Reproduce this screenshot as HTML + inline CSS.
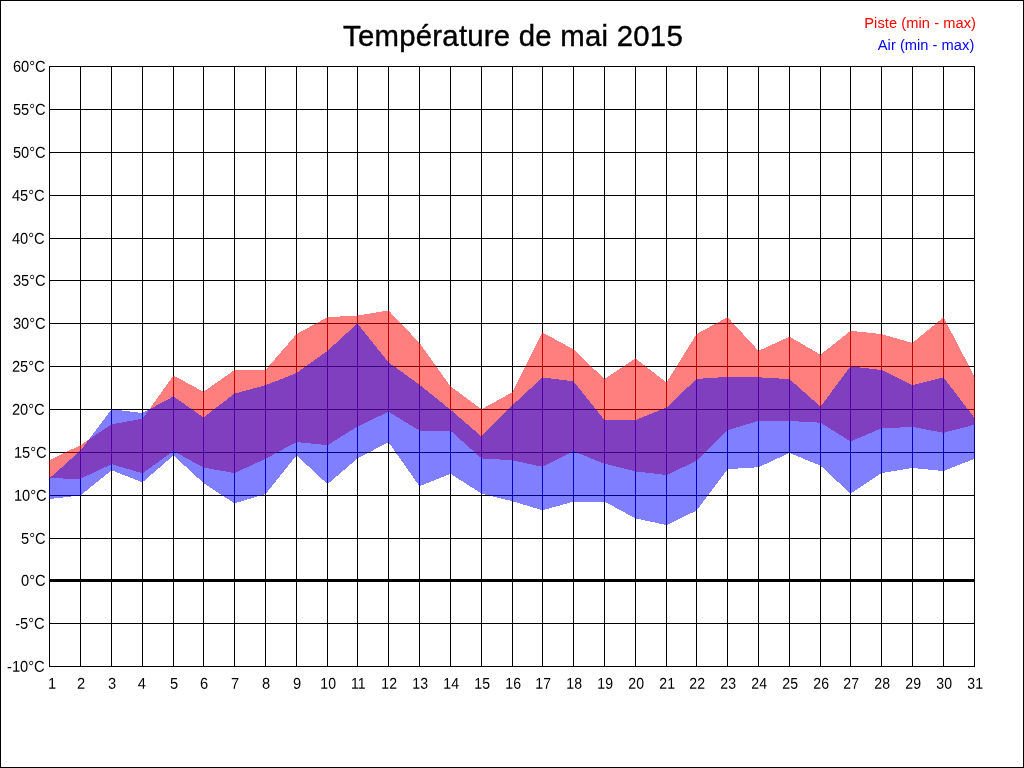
<!DOCTYPE html>
<html lang="fr">
<head>
<meta charset="utf-8">
<title>Température de mai 2015</title>
<style>
html,body{margin:0;padding:0;background:#fff;}
body{width:1024px;height:768px;overflow:hidden;}
svg{display:block;font-family:"Liberation Sans",sans-serif;}
.g{shape-rendering:crispEdges;}
.yl{font-size:14.67px;fill:#000;text-anchor:end;}
.xl{font-size:14.67px;fill:#000;text-anchor:middle;}
</style>
</head>
<body>
<svg width="1024" height="768" viewBox="0 0 1024 768">
<rect x="0" y="0" width="1024" height="768" fill="#fff"/>
<g class="g">
<rect x="0.5" y="0.5" width="1023" height="767" fill="none" stroke="#000" stroke-width="1"/>

<rect x="49" y="66" width="1" height="601" fill="#000"/>
<rect x="80" y="66" width="1" height="601" fill="#000"/>
<rect x="111" y="66" width="1" height="601" fill="#000"/>
<rect x="142" y="66" width="1" height="601" fill="#000"/>
<rect x="173" y="66" width="1" height="601" fill="#000"/>
<rect x="203" y="66" width="1" height="601" fill="#000"/>
<rect x="234" y="66" width="1" height="601" fill="#000"/>
<rect x="265" y="66" width="1" height="601" fill="#000"/>
<rect x="296" y="66" width="1" height="601" fill="#000"/>
<rect x="327" y="66" width="1" height="601" fill="#000"/>
<rect x="357" y="66" width="1" height="601" fill="#000"/>
<rect x="388" y="66" width="1" height="601" fill="#000"/>
<rect x="419" y="66" width="1" height="601" fill="#000"/>
<rect x="450" y="66" width="1" height="601" fill="#000"/>
<rect x="481" y="66" width="1" height="601" fill="#000"/>
<rect x="512" y="66" width="1" height="601" fill="#000"/>
<rect x="542" y="66" width="1" height="601" fill="#000"/>
<rect x="573" y="66" width="1" height="601" fill="#000"/>
<rect x="604" y="66" width="1" height="601" fill="#000"/>
<rect x="635" y="66" width="1" height="601" fill="#000"/>
<rect x="666" y="66" width="1" height="601" fill="#000"/>
<rect x="696" y="66" width="1" height="601" fill="#000"/>
<rect x="727" y="66" width="1" height="601" fill="#000"/>
<rect x="758" y="66" width="1" height="601" fill="#000"/>
<rect x="789" y="66" width="1" height="601" fill="#000"/>
<rect x="820" y="66" width="1" height="601" fill="#000"/>
<rect x="850" y="66" width="1" height="601" fill="#000"/>
<rect x="881" y="66" width="1" height="601" fill="#000"/>
<rect x="912" y="66" width="1" height="601" fill="#000"/>
<rect x="943" y="66" width="1" height="601" fill="#000"/>
<rect x="974" y="66" width="1" height="601" fill="#000"/>
<rect x="49" y="66" width="926" height="1" fill="#000"/>
<rect x="49" y="109" width="926" height="1" fill="#000"/>
<rect x="49" y="152" width="926" height="1" fill="#000"/>
<rect x="49" y="195" width="926" height="1" fill="#000"/>
<rect x="49" y="238" width="926" height="1" fill="#000"/>
<rect x="49" y="280" width="926" height="1" fill="#000"/>
<rect x="49" y="323" width="926" height="1" fill="#000"/>
<rect x="49" y="366" width="926" height="1" fill="#000"/>
<rect x="49" y="409" width="926" height="1" fill="#000"/>
<rect x="49" y="452" width="926" height="1" fill="#000"/>
<rect x="49" y="495" width="926" height="1" fill="#000"/>
<rect x="49" y="538" width="926" height="1" fill="#000"/>
<rect x="49" y="580" width="926" height="1" fill="#000"/>
<rect x="49" y="623" width="926" height="1" fill="#000"/>
<rect x="49" y="666" width="926" height="1" fill="#000"/>
<rect x="49" y="579" width="926" height="3" fill="#000"/>
<polygon points="49,460 49.5,460 80.5,445.2 111.5,424.4 142.5,418.7 173.5,375.5 203.5,391.8 234.5,370 265.5,370 296.5,334.1 327.5,317.2 357.5,315.5 388.5,310.4 419.5,342.9 450.5,386.3 481.5,409.2 512.5,392.2 542.5,332.5 573.5,349.4 604.5,379.1 635.5,358.4 666.5,382.5 696.5,334.1 727.5,317.2 758.5,350.8 789.5,336.7 820.5,354.7 850.5,330.8 881.5,334.1 912.5,343 943.5,317.2 974.5,376.6 975,376.6 975,424.7 974.5,424.7 943.5,432.8 912.5,426.9 881.5,428.4 850.5,441.4 820.5,422.7 789.5,421 758.5,420.8 727.5,430.2 696.5,460.9 666.5,475 635.5,471.4 604.5,463.75 573.5,451.25 542.5,466.9 512.5,460.3 481.5,458.4 450.5,430.7 419.5,430.7 388.5,411.7 357.5,426.5 327.5,445.2 296.5,442 265.5,458.75 234.5,473.1 203.5,467.6 173.5,451 142.5,473.3 111.5,464.2 80.5,478.75 49.5,478.3 49,478.3" fill="rgba(255,0,0,0.5)"/>
<polygon points="49,478.3 49.5,478.3 80.5,450.5 111.5,409.3 142.5,413 173.5,396.4 203.5,417.4 234.5,393.7 265.5,385.2 296.5,373.1 327.5,350.8 357.5,323.5 388.5,362.4 419.5,384.75 450.5,409.75 481.5,436.5 512.5,405.2 542.5,377.5 573.5,381.25 604.5,420 635.5,420 666.5,407.5 696.5,378.9 727.5,376.9 758.5,377.3 789.5,379.1 820.5,406.6 850.5,366.4 881.5,370 912.5,385.2 943.5,377.3 974.5,418.05 975,418.05 975,458.75 974.5,458.75 943.5,471 912.5,468 881.5,473.1 850.5,493.75 820.5,465.6 789.5,453 758.5,467.2 727.5,469.2 696.5,510.6 666.5,525 635.5,518.4 604.5,501.6 573.5,501.6 542.5,510.3 512.5,501.25 481.5,493.6 450.5,473.8 419.5,486.3 388.5,442.1 357.5,458.5 327.5,484.2 296.5,455.3 265.5,494.1 234.5,503.4 203.5,483.1 173.5,455.4 142.5,482.3 111.5,470.3 80.5,495.4 49.5,499.1 49,499.1" fill="rgba(0,0,255,0.5)"/>
<rect x="80" y="445" width="1" height="34" fill="rgba(255,0,0,0.5)"/>
<rect x="80" y="450" width="1" height="45" fill="rgba(0,0,255,0.5)"/>
<rect x="111" y="424" width="1" height="40" fill="rgba(255,0,0,0.5)"/>
<rect x="111" y="409" width="1" height="61" fill="rgba(0,0,255,0.5)"/>
<rect x="142" y="419" width="1" height="54" fill="rgba(255,0,0,0.5)"/>
<rect x="142" y="413" width="1" height="69" fill="rgba(0,0,255,0.5)"/>
<rect x="173" y="376" width="1" height="75" fill="rgba(255,0,0,0.5)"/>
<rect x="173" y="396" width="1" height="59" fill="rgba(0,0,255,0.5)"/>
<rect x="203" y="392" width="1" height="76" fill="rgba(255,0,0,0.5)"/>
<rect x="203" y="417" width="1" height="66" fill="rgba(0,0,255,0.5)"/>
<rect x="234" y="370" width="1" height="103" fill="rgba(255,0,0,0.5)"/>
<rect x="234" y="394" width="1" height="109" fill="rgba(0,0,255,0.5)"/>
<rect x="265" y="370" width="1" height="89" fill="rgba(255,0,0,0.5)"/>
<rect x="265" y="385" width="1" height="109" fill="rgba(0,0,255,0.5)"/>
<rect x="296" y="334" width="1" height="108" fill="rgba(255,0,0,0.5)"/>
<rect x="296" y="373" width="1" height="82" fill="rgba(0,0,255,0.5)"/>
<rect x="327" y="317" width="1" height="128" fill="rgba(255,0,0,0.5)"/>
<rect x="327" y="351" width="1" height="133" fill="rgba(0,0,255,0.5)"/>
<rect x="357" y="316" width="1" height="110" fill="rgba(255,0,0,0.5)"/>
<rect x="357" y="324" width="1" height="134" fill="rgba(0,0,255,0.5)"/>
<rect x="388" y="310" width="1" height="102" fill="rgba(255,0,0,0.5)"/>
<rect x="388" y="362" width="1" height="80" fill="rgba(0,0,255,0.5)"/>
<rect x="419" y="343" width="1" height="88" fill="rgba(255,0,0,0.5)"/>
<rect x="419" y="385" width="1" height="101" fill="rgba(0,0,255,0.5)"/>
<rect x="450" y="386" width="1" height="45" fill="rgba(255,0,0,0.5)"/>
<rect x="450" y="410" width="1" height="64" fill="rgba(0,0,255,0.5)"/>
<rect x="481" y="409" width="1" height="49" fill="rgba(255,0,0,0.5)"/>
<rect x="481" y="436" width="1" height="58" fill="rgba(0,0,255,0.5)"/>
<rect x="512" y="392" width="1" height="68" fill="rgba(255,0,0,0.5)"/>
<rect x="512" y="405" width="1" height="96" fill="rgba(0,0,255,0.5)"/>
<rect x="542" y="332" width="1" height="135" fill="rgba(255,0,0,0.5)"/>
<rect x="542" y="378" width="1" height="132" fill="rgba(0,0,255,0.5)"/>
<rect x="573" y="349" width="1" height="102" fill="rgba(255,0,0,0.5)"/>
<rect x="573" y="381" width="1" height="121" fill="rgba(0,0,255,0.5)"/>
<rect x="604" y="379" width="1" height="85" fill="rgba(255,0,0,0.5)"/>
<rect x="604" y="420" width="1" height="82" fill="rgba(0,0,255,0.5)"/>
<rect x="635" y="358" width="1" height="113" fill="rgba(255,0,0,0.5)"/>
<rect x="635" y="420" width="1" height="98" fill="rgba(0,0,255,0.5)"/>
<rect x="666" y="382" width="1" height="93" fill="rgba(255,0,0,0.5)"/>
<rect x="666" y="408" width="1" height="117" fill="rgba(0,0,255,0.5)"/>
<rect x="696" y="334" width="1" height="127" fill="rgba(255,0,0,0.5)"/>
<rect x="696" y="379" width="1" height="132" fill="rgba(0,0,255,0.5)"/>
<rect x="727" y="317" width="1" height="113" fill="rgba(255,0,0,0.5)"/>
<rect x="727" y="377" width="1" height="92" fill="rgba(0,0,255,0.5)"/>
<rect x="758" y="351" width="1" height="70" fill="rgba(255,0,0,0.5)"/>
<rect x="758" y="377" width="1" height="90" fill="rgba(0,0,255,0.5)"/>
<rect x="789" y="337" width="1" height="84" fill="rgba(255,0,0,0.5)"/>
<rect x="789" y="379" width="1" height="74" fill="rgba(0,0,255,0.5)"/>
<rect x="820" y="355" width="1" height="68" fill="rgba(255,0,0,0.5)"/>
<rect x="820" y="407" width="1" height="59" fill="rgba(0,0,255,0.5)"/>
<rect x="850" y="331" width="1" height="110" fill="rgba(255,0,0,0.5)"/>
<rect x="850" y="366" width="1" height="128" fill="rgba(0,0,255,0.5)"/>
<rect x="881" y="334" width="1" height="94" fill="rgba(255,0,0,0.5)"/>
<rect x="881" y="370" width="1" height="103" fill="rgba(0,0,255,0.5)"/>
<rect x="912" y="343" width="1" height="84" fill="rgba(255,0,0,0.5)"/>
<rect x="912" y="385" width="1" height="83" fill="rgba(0,0,255,0.5)"/>
<rect x="943" y="317" width="1" height="116" fill="rgba(255,0,0,0.5)"/>
<rect x="943" y="377" width="1" height="94" fill="rgba(0,0,255,0.5)"/>
</g>
<text transform="translate(513,45.7) rotate(0.02) scale(1,1.03)" font-size="29.33px" letter-spacing="0.25" text-anchor="middle" fill="#000" stroke="#000" stroke-width="0.4">Température de mai 2015</text>
<text transform="translate(976,27.5) scale(1,1.02)" font-size="14.67px" letter-spacing="0.06" text-anchor="end" fill="#f00">Piste (min - max)</text>
<text transform="translate(974.3,49.5) scale(1,1.02)" font-size="14.67px" letter-spacing="0.03" text-anchor="end" fill="#00f">Air (min - max)</text>
<text class="yl" transform="translate(45.7,71.7) rotate(0.03) scale(1,1.07)">60°C</text>
<text class="yl" transform="translate(45.7,114.7) rotate(0.03) scale(1,1.07)">55°C</text>
<text class="yl" transform="translate(45.7,157.7) rotate(0.03) scale(1,1.07)">50°C</text>
<text class="yl" transform="translate(44.7,200.7) rotate(0.03) scale(1,1.07)">45°C</text>
<text class="yl" transform="translate(44.7,243.7) rotate(0.03) scale(1,1.07)">40°C</text>
<text class="yl" transform="translate(45.7,285.7) rotate(0.03) scale(1,1.07)">35°C</text>
<text class="yl" transform="translate(45.7,328.7) rotate(0.03) scale(1,1.07)">30°C</text>
<text class="yl" transform="translate(44.7,371.7) rotate(0.03) scale(1,1.07)">25°C</text>
<text class="yl" transform="translate(44.7,414.7) rotate(0.03) scale(1,1.07)">20°C</text>
<text class="yl" transform="translate(46.7,457.7) rotate(0.03) scale(1,1.07)">15°C</text>
<text class="yl" transform="translate(46.7,500.7) rotate(0.03) scale(1,1.07)">10°C</text>
<text class="yl" transform="translate(45.7,543.7) rotate(0.03) scale(1,1.07)">5°C</text>
<text class="yl" transform="translate(45.7,585.7) rotate(0.03) scale(1,1.07)">0°C</text>
<text class="yl" transform="translate(44.7,628.7) rotate(0.03) scale(1,1.07)">-5°C</text>
<text class="yl" transform="translate(44.7,671.7) rotate(0.03) scale(1,1.07)">-10°C</text>
<text class="xl" transform="translate(52,688.8) rotate(0.03) scale(1,1.07)">1</text>
<text class="xl" transform="translate(81.0,688.8) rotate(0.03) scale(1,1.07)">2</text>
<text class="xl" transform="translate(112.0,688.8) rotate(0.03) scale(1,1.07)">3</text>
<text class="xl" transform="translate(141.7,688.8) rotate(0.03) scale(1,1.07)">4</text>
<text class="xl" transform="translate(174.0,688.8) rotate(0.03) scale(1,1.07)">5</text>
<text class="xl" transform="translate(204.0,688.8) rotate(0.03) scale(1,1.07)">6</text>
<text class="xl" transform="translate(235.0,688.8) rotate(0.03) scale(1,1.07)">7</text>
<text class="xl" transform="translate(266.0,688.8) rotate(0.03) scale(1,1.07)">8</text>
<text class="xl" transform="translate(297.0,688.8) rotate(0.03) scale(1,1.07)">9</text>
<text class="xl" transform="translate(328.2,688.8) rotate(0.03) scale(0.96,1.07)">10</text>
<text class="xl" transform="translate(358.2,688.8) rotate(0.03) scale(0.96,1.07)">11</text>
<text class="xl" transform="translate(389.2,688.8) rotate(0.03) scale(0.96,1.07)">12</text>
<text class="xl" transform="translate(420.2,688.8) rotate(0.03) scale(0.96,1.07)">13</text>
<text class="xl" transform="translate(451.2,688.8) rotate(0.03) scale(0.96,1.07)">14</text>
<text class="xl" transform="translate(482.2,688.8) rotate(0.03) scale(0.96,1.07)">15</text>
<text class="xl" transform="translate(513.2,688.8) rotate(0.03) scale(0.96,1.07)">16</text>
<text class="xl" transform="translate(543.2,688.8) rotate(0.03) scale(0.96,1.07)">17</text>
<text class="xl" transform="translate(574.2,688.8) rotate(0.03) scale(0.96,1.07)">18</text>
<text class="xl" transform="translate(605.2,688.8) rotate(0.03) scale(0.96,1.07)">19</text>
<text class="xl" transform="translate(636.2,688.8) rotate(0.03) scale(0.96,1.07)">20</text>
<text class="xl" transform="translate(667.2,688.8) rotate(0.03) scale(0.96,1.07)">21</text>
<text class="xl" transform="translate(697.2,688.8) rotate(0.03) scale(0.96,1.07)">22</text>
<text class="xl" transform="translate(728.2,688.8) rotate(0.03) scale(0.96,1.07)">23</text>
<text class="xl" transform="translate(759.2,688.8) rotate(0.03) scale(0.96,1.07)">24</text>
<text class="xl" transform="translate(790.2,688.8) rotate(0.03) scale(0.96,1.07)">25</text>
<text class="xl" transform="translate(821.2,688.8) rotate(0.03) scale(0.96,1.07)">26</text>
<text class="xl" transform="translate(851.2,688.8) rotate(0.03) scale(0.96,1.07)">27</text>
<text class="xl" transform="translate(882.2,688.8) rotate(0.03) scale(0.96,1.07)">28</text>
<text class="xl" transform="translate(913.2,688.8) rotate(0.03) scale(0.96,1.07)">29</text>
<text class="xl" transform="translate(944.2,688.8) rotate(0.03) scale(0.96,1.07)">30</text>
<text class="xl" transform="translate(975.2,688.8) rotate(0.03) scale(0.96,1.07)">31</text>
</svg>
</body>
</html>
